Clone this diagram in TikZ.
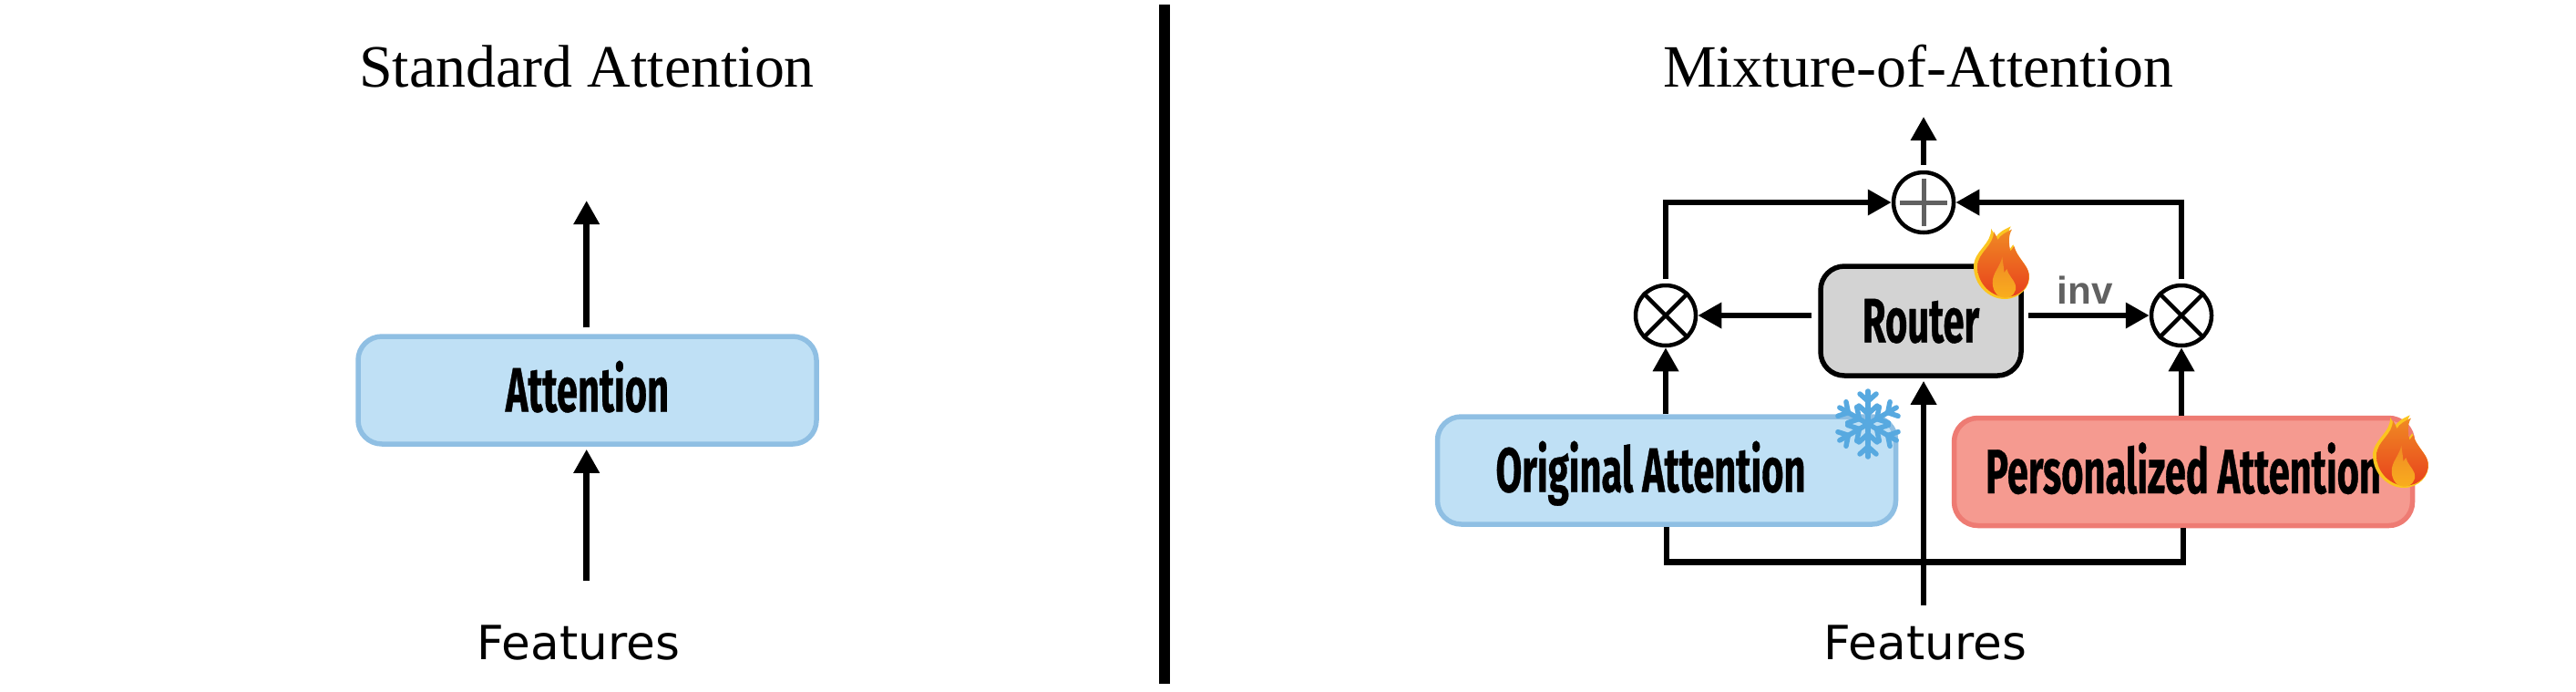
\documentclass[tikz,border=0pt]{standalone}
\usepackage{fontspec}
\usepackage{tikz}
\usetikzlibrary{calc, arrows.meta}
\newfontfamily\titlefont{Liberation Serif}
\newfontfamily\featfont{DejaVu Sans}
\newfontfamily\boxfont[FakeStretch=0.605, FakeBold=0.5]{Fira Sans}
\newfontfamily\invfont{Liberation Sans}
\definecolor{boxblue}{HTML}{BFE0F5}
\definecolor{edgeblue}{HTML}{8FBFE3}
\definecolor{boxred}{HTML}{F59A90}
\definecolor{edgered}{HTML}{EE7B73}
\definecolor{boxgray}{HTML}{D3D3D3}
\definecolor{iceblue}{HTML}{57A9E0}
\definecolor{flameyellow}{HTML}{FBC520}
\definecolor{flameorange}{HTML}{F08A24}
\definecolor{flamered}{HTML}{E8401C}
\definecolor{flamecore}{HTML}{F9AE1E}
\newcommand{\flameoutline}{(0.04,-0.4) .. controls (0.2,-0.4) and (0.33,-0.27) .. (0.307,-0.127) .. controls (0.29,-0.02) and (0.17,0.06) .. (0.133,0.197) .. controls (0.11,0.17) and (0.1,0.15) .. (0.09,0.14) .. controls (0.07,0.22) and (0.06,0.32) .. (0.107,0.397) .. controls (0.03,0.36) and (-0.03,0.33) .. (-0.06,0.273) .. controls (-0.07,0.31) and (-0.09,0.34) .. (-0.11,0.373) .. controls (-0.1,0.2) and (-0.3,0.13) .. (-0.3,-0.043) .. controls (-0.3,-0.25) and (-0.13,-0.4) .. (0.04,-0.4) -- cycle}
\tikzset{
	flow/.style={line width=0.065cm, -{Triangle[width=0.27cm, length=0.26cm]}},
	bus/.style={line width=0.065cm},
	heading/.style={font=\titlefont\fontsize{18.75}{22}\selectfont},
	feat/.style={font=\featfont\fontsize{14.7}{17}\selectfont},
	block/.style={draw, line width=0.055cm, rounded corners=0.26cm, minimum height=1.18cm, text height=0.47cm, text depth=0cm, font=\boxfont\bfseries\fontsize{19.6}{23}\selectfont},
	blueblock/.style={block, draw=edgeblue, fill=boxblue, minimum width=5.03cm},
	redblock/.style={block, draw=edgered, fill=boxred, minimum width=5.03cm},
	junction/.style={circle, draw, line width=0.045cm, minimum size=0.66cm, inner sep=0pt},
	flameicon/.pic={
		\fill[flameyellow] \flameoutline;
		\shade[top color=flameorange, bottom color=flamered, shift={(0.02,-0.005)}, scale=0.93] \flameoutline;
		\shade[top color=flameorange, bottom color=flamecore] (0.04,-0.387) .. controls (0.12,-0.387) and (0.18,-0.32) .. (0.157,-0.243) .. controls (0.13,-0.17) and (0.08,-0.14) .. (0.063,-0.07) .. controls (0.05,-0.09) and (0.04,-0.1) .. (0.035,-0.11) .. controls (0.03,-0.05) and (0.02,0) .. (0.013,0.063) .. controls (-0.01,-0.05) and (-0.1,-0.12) .. (-0.093,-0.227) .. controls (-0.09,-0.32) and (-0.03,-0.387) .. (0.04,-0.387) -- cycle;
	},
	snowicon/.pic={
		\foreach \ang in {0, 60, ..., 300} {
			\begin{scope}[rotate=\ang, draw=iceblue, line width=0.055cm, line cap=round]
				\draw (0,0) -- (0,0.36);
				\draw (-0.09,0.33) -- (0,0.25) -- (0.09,0.33);
				\draw (-0.1,0.2) -- (0,0.11) -- (0.1,0.2);
			\end{scope}
		}
	}
}

\begin{document}
\begin{tikzpicture}
	\useasboundingbox (0, 0) rectangle (28.27, 7.58);

	% divider
	\fill (12.72, 0.08) rectangle (12.84, 7.53);

	% standard attention
	\node[heading] (stdtitle) at (6.44, 6.85) {Standard Attention};
	\node[blueblock] (attn) at (6.445, 3.30) {Attention};
	\node[feat] (stdfeat) at (6.35, 0.53) {Features};
	\coordinate (stdin) at (6.437, 1.215);
	\coordinate (stdout) at (6.437, 5.38);
	\draw[flow, shorten >=0.03cm] (stdin) -- (stdin |- attn.south);
	\draw[flow, shorten <=0.07cm] (stdout |- attn.north) -- (stdout);

	% mixture of attention
	\node[heading] (mixtitle) at (21.05, 6.85) {Mixture-of-Attention};
	\node[junction] (plusnode) at (21.11, 5.36) {};
	\node[junction] (mulleft) at (18.28, 4.12) {};
	\node[junction] (mulright) at (23.94, 4.12) {};
	\node[block, fill=boxgray, draw=black, minimum width=2.2cm, minimum height=1.2cm] (router) at (21.08, 4.06) {Router};
	\node[blueblock] (orig) at (18.29, 2.42) {\hspace*{-0.35cm}Original Attention};
	\node[redblock] (pers) at (23.96, 2.405) {Personalized Attention};
	\node[feat] (mixfeat) at (21.13, 0.53) {Features};
	\node[anchor=base, font=\invfont\bfseries\fontsize{12}{15}\selectfont, text=black!62] (inv) at (22.88, 4.25) {inv};
	\coordinate (mixin) at (21.11, 0.945);
	\coordinate (mixbus) at (21.11, 1.414);
	\coordinate (mixout) at (21.11, 6.30);

	% signs inside the junctions
	\draw[line width=0.05cm, black!62] (plusnode.west) ++(0.09, 0) -- ($(plusnode.east) + (-0.09, 0)$);
	\draw[line width=0.05cm, black!62] (plusnode.north) ++(0, -0.09) -- ($(plusnode.south) + (0, 0.09)$);
	\foreach \mul in {mulleft, mulright} {
		\draw[line width=0.045cm] (\mul.45) -- (\mul.225);
		\draw[line width=0.045cm] (\mul.135) -- (\mul.315);
	}

	% connectors
	\draw[flow, shorten <=0.06cm] (plusnode.north) -- (mixout);
	\draw[flow, shorten <=0.05cm] (mulleft.north) |- (plusnode);
	\draw[flow, shorten <=0.05cm] (mulright.north) |- (plusnode);
	\draw[flow, shorten <=0.07cm] (router.west |- mulleft) -- (mulleft);
	\draw[flow, shorten <=0.05cm] (router.east |- mulright) -- (mulright);
	\draw[flow] (mulleft |- orig.north) -- (mulleft);
	\draw[flow] (mulright |- pers.north) -- (mulright);
	\draw[bus] (mixin) -- (mixbus);
	\draw[flow, shorten >=0.03cm] (mixbus) -- (mixbus |- router.south);
	\draw[bus] (orig.south) -- (orig.south |- mixbus) -- (pers.south |- mixbus) -- (pers.south);

	% icons
	\pic at (21.96, 4.70) {flameicon};
	\pic at (26.34, 2.63) {flameicon};
	\pic at (20.50, 2.93) {snowicon};
\end{tikzpicture}
\end{document}
